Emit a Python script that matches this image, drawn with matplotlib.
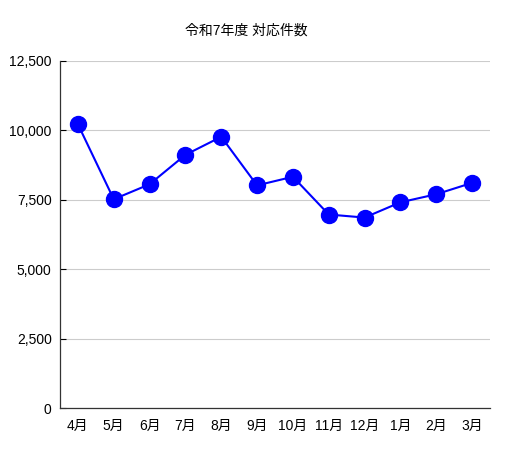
import matplotlib
matplotlib.use('Agg')
import matplotlib.pyplot as plt
from matplotlib.ticker import FuncFormatter

plt.rcParams['font.family'] = ['Liberation Sans', 'Noto Sans CJK JP', 'DejaVu Sans']

title = '令和7年度 対応件数'
months = ['4月', '5月', '6月', '7月', '8月', '9月', '10月', '11月', '12月', '1月', '2月', '3月']
counts = [10220, 7520, 8060, 9120, 9770, 8020, 8330, 6970, 6860, 7410, 7700, 8110]
yticks = [0, 2500, 5000, 7500, 10000, 12500]

W, H = 513, 453
fig = plt.figure(figsize=(W / 100, H / 100), dpi=100)
ax = fig.add_axes([60 / W, (H - 408) / H, 430 / W, 347 / H])

x = list(range(len(months)))
ax.plot(x, counts, '-o', color='#0000ff', lw=1.5, markersize=11.5, zorder=3, clip_on=False)

ax.set_xlim(-0.5, len(months) - 0.5)
ax.set_ylim(0, 12500)
ax.set_xticks(x)
ax.set_xticklabels(months, fontsize=10)
ax.set_yticks(yticks)
ax.yaxis.set_major_formatter(FuncFormatter(lambda v, p: '{:,}'.format(int(v))))
ax.tick_params(axis='y', labelsize=10, length=4, width=0.8, direction='in', pad=6)
ax.tick_params(axis='x', length=0, pad=8)
ax.grid(axis='y', color='#cccccc', lw=0.8)
ax.set_axisbelow(True)
for s in ['top', 'right']:
    ax.spines[s].set_visible(False)
ax.spines['left'].set_color('#333333')
ax.spines['bottom'].set_color('#333333')
ax.spines['left'].set_linewidth(0.9)
ax.spines['bottom'].set_linewidth(0.9)

fig.text(246 / W, 1 - 31 / H, title, ha='center', va='center', fontsize=10)

fig.savefig('out.png', dpi=100)
